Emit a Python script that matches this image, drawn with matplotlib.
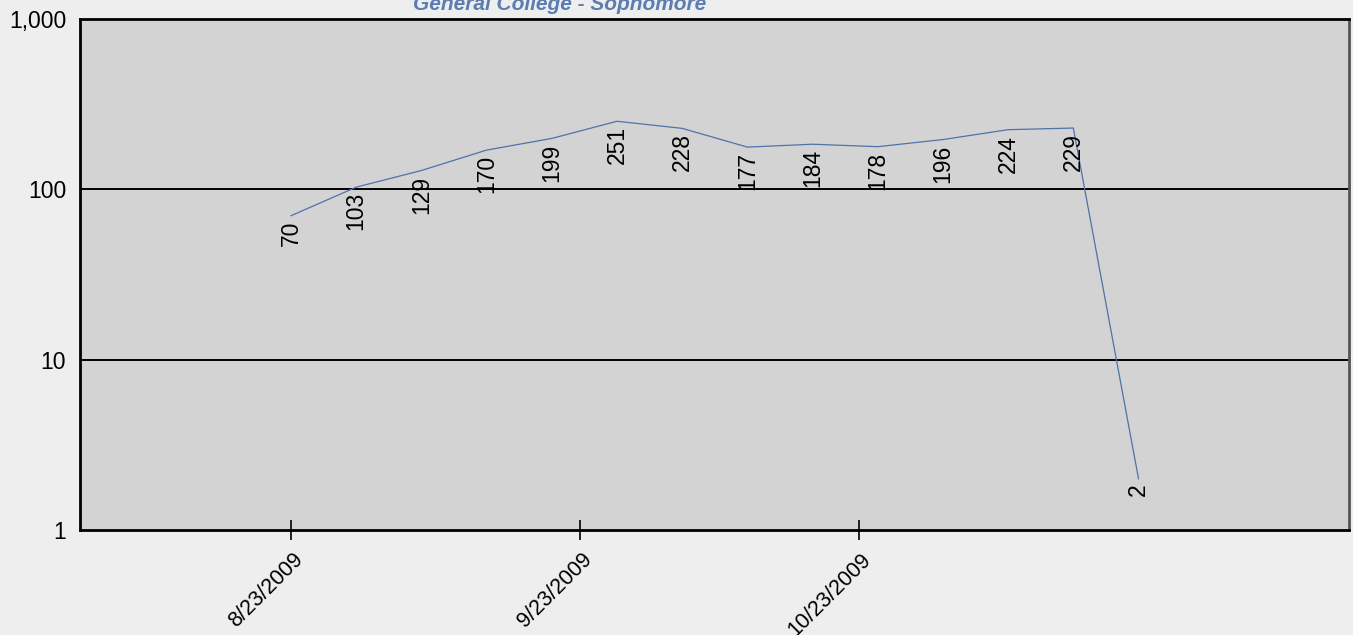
import matplotlib
matplotlib.use("Agg")
import matplotlib.pyplot as plt
import matplotlib.dates as mdates
from matplotlib.ticker import FuncFormatter, FixedLocator, NullLocator
from matplotlib.transforms import ScaledTranslation
import datetime as dt

plt.rcParams['font.family'] = ['Liberation Sans', 'DejaVu Sans']

title = "General College - Sophomore"
dates = ["2009-08-23", "2009-08-30", "2009-09-06", "2009-09-13", "2009-09-20",
         "2009-09-27", "2009-10-04", "2009-10-11", "2009-10-18", "2009-10-25",
         "2009-11-01", "2009-11-08", "2009-11-15", "2009-11-22"]
values = [70, 103, 129, 170, 199, 251, 228, 177, 184, 178, 196, 224, 229, 2]
tick_dates = ["2009-08-23", "2009-09-23", "2009-10-23"]
tick_labels = ["8/23/2009", "9/23/2009", "10/23/2009"]
y_ticks = [1, 10, 100, 1000]

x = [dt.datetime.strptime(d, "%Y-%m-%d") for d in dates]
xn = mdates.date2num(x)
tn = mdates.date2num([dt.datetime.strptime(d, "%Y-%m-%d") for d in tick_dates])

fig = plt.figure(figsize=(13.53, 6.35), dpi=100, facecolor='#EEEEEE')
ax = fig.add_axes([80/1353, 1-530/635, (1349-80)/1353, (530-19)/635])
ax.set_facecolor('#D3D3D3')

ax.plot(xn, values, color='#4F72AA', lw=0.9, zorder=3)
for xi, v in zip(xn, values):
    ax.annotate(str(v), (xi, v), xytext=(0, -5), textcoords='offset pixels',
                rotation=90, ha='center', va='top', fontsize=16.5, color='black',
                zorder=4)

ax.set_yscale('log')
ax.set_ylim(1, 1000)
ax.yaxis.set_major_locator(FixedLocator(y_ticks))
ax.yaxis.set_minor_locator(NullLocator())
ax.yaxis.set_major_formatter(FuncFormatter(lambda v, p: f"{int(round(v)):,}"))
ax.tick_params(axis='y', length=0, pad=10, labelsize=16.5)
for yv in [10, 100]:
    ax.axhline(yv, color='black', lw=1.4, zorder=2)

base = mdates.date2num(dt.datetime(2009, 8, 23))
ax.set_xlim(base - 22.66, base + 113.6)
ax.xaxis.set_major_locator(FixedLocator(tn))
ax.xaxis.set_minor_locator(NullLocator())
ax.set_xticklabels(tick_labels)
ax.tick_params(axis='x', direction='inout', length=14, width=1.2, pad=12, labelsize=15.5)
for lab in ax.get_xticklabels():
    lab.set_rotation(45)
    lab.set_ha('right')
    lab.set_va('center')
    lab.set_rotation_mode('anchor')
    lab.set_transform(lab.get_transform() + ScaledTranslation(9/100, 0, fig.dpi_scale_trans))

for s in ['left', 'bottom', 'top']:
    ax.spines[s].set_color('black')
    ax.spines[s].set_linewidth(2)
ax.spines['right'].set_color('#555555')
ax.spines['right'].set_linewidth(2)

fig.text(560/1353, 1-9.5/635, title, ha='center', va='baseline', fontsize=15,
         fontweight='bold', fontstyle='italic', color='#5B7DB1')

fig.savefig('out.png', dpi=100, facecolor=fig.get_facecolor())
